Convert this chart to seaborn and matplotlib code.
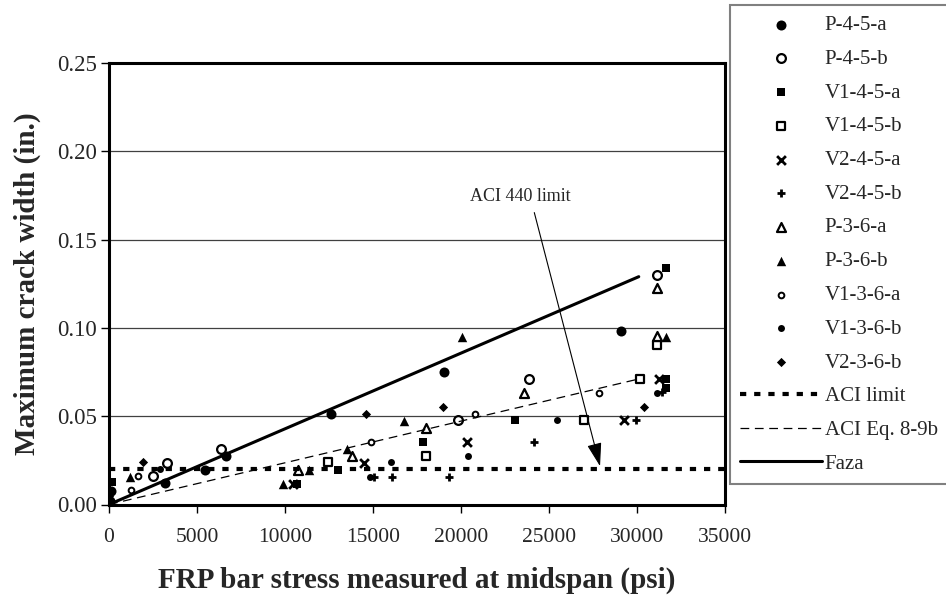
import numpy as np
import pandas as pd
import seaborn as sns
import matplotlib.pyplot as plt
from matplotlib.ticker import FormatStrFormatter

# --- data: stress (psi) vs max crack width (in.) ---
p45a_x = [0, 50, 100, 3180, 5450, 6630, 12610, 19030, 29080]
p45a_y = [0.0, 0.002, 0.0075, 0.0123, 0.0198, 0.0277, 0.0513, 0.0751, 0.0985]

p45b_x = [2520, 3280, 6340, 19850, 23860, 31110]
p45b_y = [0.0164, 0.0236, 0.0317, 0.0476, 0.0712, 0.130]

v145a_x = [150, 10700, 13030, 17860, 23070, 31650, 31650, 31650]
v145a_y = [0.0125, 0.0117, 0.0198, 0.0355, 0.0477, 0.0708, 0.066, 0.134]

v145b_x = [12460, 17990, 26990, 30150, 31120]
v145b_y = [0.0240, 0.0277, 0.0476, 0.0712, 0.0906]

v245a_x = [10450, 14490, 20320, 29260, 31270]
v245a_y = [0.0117, 0.0236, 0.0355, 0.0476, 0.0712]

v245b_x = [15060, 16100, 19340, 24150, 29920, 31400]
v245b_y = [0.0157, 0.0157, 0.0157, 0.0355, 0.0476, 0.0635]

p36a_x = [10760, 13830, 17990, 23580, 31150, 31150]
p36a_y = [0.0198, 0.0274, 0.0434, 0.0629, 0.0953, 0.1227]

p36b_x = [1190, 9870, 11380, 13500, 16760, 20080, 31650]
p36b_y = [0.0157, 0.0117, 0.0198, 0.0317, 0.0472, 0.095, 0.095]

v136a_x = [1230, 1670, 14890, 20800, 27860]
v136a_y = [0.0081, 0.016, 0.0355, 0.0515, 0.0632]

v136b_x = [2900, 14830, 16000, 20420, 25440, 31110]
v136b_y = [0.0202, 0.0157, 0.024, 0.0277, 0.0476, 0.0632]

v236b_x = [0, 1950, 14580, 18990, 30400]
v236b_y = [0.005, 0.024, 0.0513, 0.0553, 0.0553]

aci_limit_x = [0, 35000]
aci_limit_y = [0.02, 0.02]
aci_eq_x = [0, 30150]
aci_eq_y = [0, 0.0712]
faza_x = [0, 30100]
faza_y = [0, 0.129]

arrow_start = (24165, 0.1653)
arrow_tip = (27900, 0.0217)
note_pos = (23350, 0.1744)

series = [
    ('P-4-5-a', p45a_x, p45a_y),
    ('P-4-5-b', p45b_x, p45b_y),
    ('V1-4-5-a', v145a_x, v145a_y),
    ('V1-4-5-b', v145b_x, v145b_y),
    ('V2-4-5-a', v245a_x, v245a_y),
    ('V2-4-5-b', v245b_x, v245b_y),
    ('P-3-6-a', p36a_x, p36a_y),
    ('P-3-6-b', p36b_x, p36b_y),
    ('V1-3-6-a', v136a_x, v136a_y),
    ('V1-3-6-b', v136b_x, v136b_y),
    ('V2-3-6-b', v236b_x, v236b_y),
]
df = pd.concat([pd.DataFrame({'stress': x, 'crack': y, 'specimen': n}) for n, x, y in series])

# marker look per specimen: (marker, s, filled, linewidth)
looks = {
    'P-4-5-a': ('o', 52, True, 0),
    'P-4-5-b': ('o', 40, False, 1.6),
    'V1-4-5-a': ('s', 34, True, 0),
    'V1-4-5-b': ('s', 27, False, 1.6),
    'V2-4-5-a': ('x', 40, None, 2.0),
    'V2-4-5-b': ('+', 40, None, 2.0),
    'P-3-6-a': ('^', 42, False, 1.6),
    'P-3-6-b': ('^', 46, True, 0),
    'V1-3-6-a': ('o', 17, False, 1.4),
    'V1-3-6-b': ('o', 25, True, 0),
    'V2-3-6-b': ('D', 22, True, 0),
}

sns.set_style('white')
plt.rcParams['font.family'] = ['Liberation Serif', 'DejaVu Serif']

fig, ax = plt.subplots(figsize=(9.46, 6.02), dpi=100)
fig.subplots_adjust(left=109/946, right=725/946, bottom=97.5/602, top=539/602)

for name, _, _ in series:
    m, s, filled, lw = looks[name]
    sub = df[df['specimen'] == name]
    if filled is None:
        sns.scatterplot(data=sub, x='stress', y='crack', marker=m, s=s, color='black',
                        linewidth=lw, label=name, ax=ax, zorder=3)
    else:
        sns.scatterplot(data=sub, x='stress', y='crack', marker=m, s=s,
                        facecolor='black' if filled else 'white', edgecolor='black',
                        linewidth=lw, label=name, ax=ax, zorder=3)

sns.lineplot(x=aci_limit_x, y=aci_limit_y, color='black', lw=3, label='ACI limit', ax=ax, zorder=4)
ax.lines[-1].set_dashes((1.5, 1.9))
sns.lineplot(x=aci_eq_x, y=aci_eq_y, color='black', lw=0.9, label='ACI Eq. 8-9b', ax=ax, zorder=4)
ax.lines[-1].set_dashes((7, 4.5))
sns.lineplot(x=faza_x, y=faza_y, color='black', lw=2.2, label='Faza', ax=ax, zorder=4)

ax.annotate('', xy=arrow_tip, xytext=arrow_start,
            arrowprops=dict(arrowstyle='-|>,head_length=1.45,head_width=0.45',
                            mutation_scale=10, lw=0.8, color='black', shrinkA=0, shrinkB=0))
ax.text(note_pos[0], note_pos[1], 'ACI 440 limit', fontsize=13, ha='center', va='center')

ax.set_xlim(0, 35000)
ax.set_ylim(0, 0.25)
ax.set_xticks(np.arange(0, 35001, 5000))
ax.set_yticks(np.arange(0, 0.2501, 0.05))
ax.yaxis.set_major_formatter(FormatStrFormatter('%.2f'))
ax.yaxis.grid(True, color='#404040', lw=0.9)
ax.xaxis.grid(False)
ax.tick_params(axis='both', direction='out', length=6, width=1, color='black')
ax.tick_params(axis='x', labelsize=15.5, pad=11, bottom=True)
ax.tick_params(axis='y', labelsize=16.5, pad=3, left=True)
for sp in ax.spines.values():
    sp.set_linewidth(2.2)
    sp.set_color('black')

ax.set_xlabel('FRP bar stress measured at midspan (psi)', fontsize=21, fontweight='bold')
ax.set_ylabel('Maximum crack width (in.)', fontsize=21, fontweight='bold')
ax.xaxis.set_label_coords(0.5, -0.171)
ax.xaxis.label.set_va('center')
ax.yaxis.set_label_coords(-0.133, 0.5)
ax.yaxis.label.set_va('center')

leg = ax.legend(loc='upper left', bbox_to_anchor=(730/946, 1 - 5/602),
                bbox_transform=fig.transFigure, fontsize=15, frameon=True,
                fancybox=False, framealpha=1, edgecolor='#808080', borderaxespad=0,
                borderpad=0.5, labelspacing=0.68, handlelength=3.9, handletextpad=0.14)
leg.get_frame().set_linewidth(1.5)

fig.savefig('out.png', dpi=100)
